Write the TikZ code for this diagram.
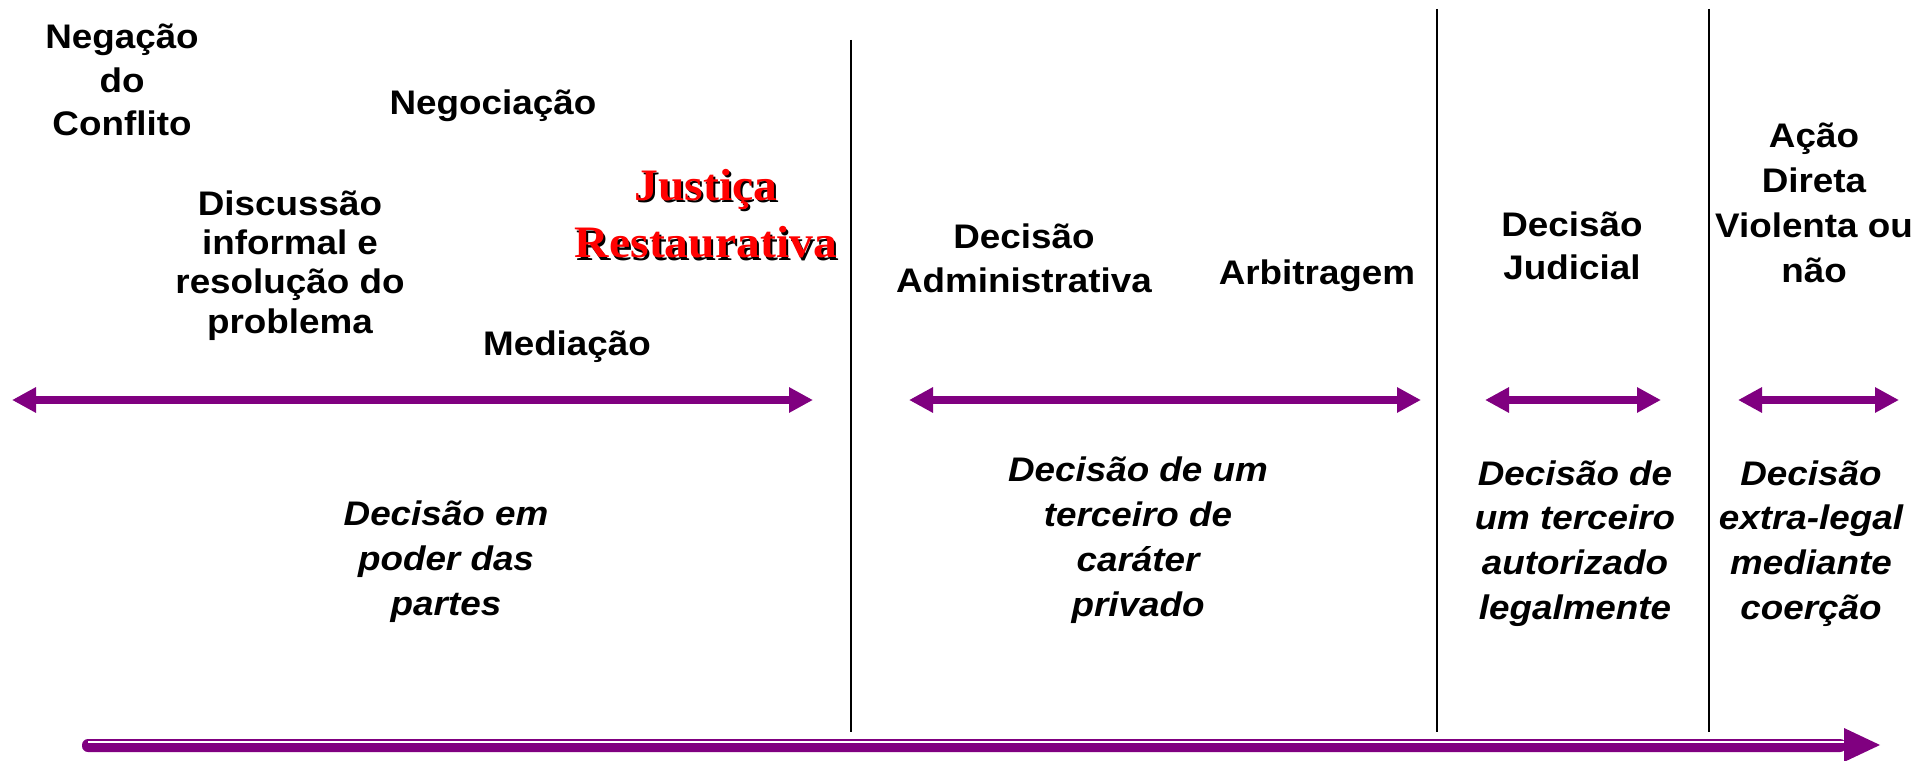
\documentclass[tikz,border=0pt]{standalone}
\usepackage{fontspec}
\setsansfont{Liberation Sans}[FakeStretch=1.08]
\newfontfamily\serifa{Liberation Serif}[FakeStretch=1.06]
\usetikzlibrary{arrows.meta}
\definecolor{roxo}{RGB}{128,0,128}

\tikzset{
	rotulo/.style  = {font = \sffamily\bfseries\fontsize{19.4}{#1}\selectfont, align = center, anchor = base, inner sep = 0pt, black},
	decisao/.style = {font = \sffamily\bfseries\itshape\fontsize{19.4}{#1}\selectfont, align = center, anchor = base, inner sep = 0pt, black},
	destaque/.style = {font = \serifa\bfseries\fontsize{25.6}{33}\selectfont, align = center, anchor = base, inner sep = 0pt},
	seta/.style    = {roxo, line width = 0.16cm, {Triangle[length = 0.48cm, width = 0.48cm]}-{Triangle[length = 0.48cm, width = 0.48cm]}},
	divisa/.style  = {black, line width = 0.05cm},
}

\begin{document}
\begin{tikzpicture}[scale = 1]

	\useasboundingbox (0, 0) rectangle (38.64, 15.2);


	%%% FORMAS DE RESOLUCAO %%%

	\node[rotulo = 25.0] (negacao)    at ( 2.44, 12.48) {Negação\\do\\Conflito};
	\node[rotulo = 23.3] (negociacao) at ( 9.86, 12.90) {Negociação};
	\node[rotulo = 22.2] (discussao)  at ( 5.80,  8.54) {Discussão\\informal e\\resolução do\\problema};
	\node[rotulo = 23.3] (mediacao)   at (11.34,  8.10) {Mediação};

	\node[destaque, black] (justica sombra) at (14.16, 10.00) {Justiça\\Restaurativa};
	\node[destaque, red]   (justica)        at (14.12, 10.04) {Justiça\\Restaurativa};

	\node[rotulo = 25.6] (administrativa) at (20.48, 9.34) {Decisão\\Administrativa};
	\node[rotulo = 23.3] (arbitragem)     at (26.34, 9.50) {Arbitragem};
	\node[rotulo = 24.5] (judicial)       at (31.44, 9.60) {Decisão\\Judicial};
	\node[rotulo = 25.6] (acao)           at (36.28, 9.56) {Ação\\Direta\\Violenta ou\\não};


	%%% SETAS DOS GRUPOS %%%

	\coordinate (s1a) at ( 0.24, 7.20);
	\coordinate (s1b) at (16.26, 7.20);
	\coordinate (s2a) at (18.18, 7.20);
	\coordinate (s2b) at (28.42, 7.20);
	\coordinate (s3a) at (29.70, 7.20);
	\coordinate (s3b) at (33.22, 7.20);
	\coordinate (s4a) at (34.76, 7.20);
	\coordinate (s4b) at (37.98, 7.20);

	\draw[seta] (s1a) -- (s1b);
	\draw[seta] (s2a) -- (s2b);
	\draw[seta] (s3a) -- (s3b);
	\draw[seta] (s4a) -- (s4b);


	%%% QUEM DECIDE %%%

	\node[decisao = 25.6] (partes)  at ( 8.92, 2.90) {Decisão em\\poder das\\partes};
	\node[decisao = 25.6] (privado) at (22.76, 2.88) {Decisão de um\\terceiro de\\caráter\\privado};
	\node[decisao = 25.4] (legal)   at (31.50, 2.82) {Decisão de\\um terceiro\\autorizado\\legalmente};
	\node[decisao = 25.4] (coercao) at (36.22, 2.82) {Decisão\\extra-legal\\mediante\\coerção};


	%%% DIVISAS %%%

	\draw[divisa] (17.02, 14.40) -- (17.02, 0.56);
	\draw[divisa] (28.74, 15.02) -- (28.74, 0.56);
	\draw[divisa] (34.18, 15.02) -- (34.18, 0.56);


	%%% SETA DE BAIXO %%%

	\fill[roxo, rounded corners = 0.12cm] (1.64, 0.42) rectangle (36.92, 0.16);
	\fill[roxo] (36.88, 0.64) -- (37.60, 0.30) -- (36.88, -0.04) -- cycle;
	\draw[white, line width = 0.044cm] (1.76, 0.355) -- (36.88, 0.355);


\end{tikzpicture}
\end{document}
